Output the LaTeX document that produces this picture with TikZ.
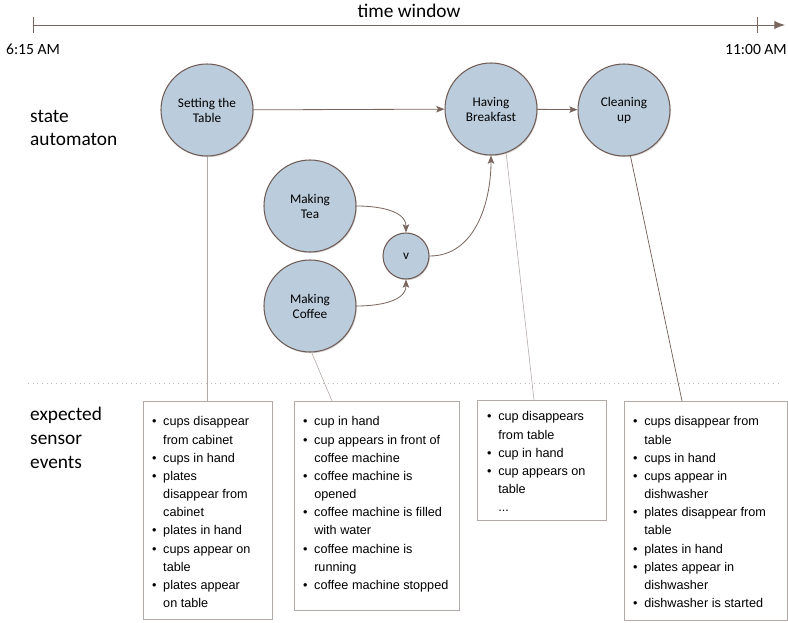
\documentclass[tikz,border=0pt]{standalone}
\usepackage{fontspec}
\setmainfont{Carlito}
\newfontfamily\evfont{Liberation Sans}
\usetikzlibrary{arrows.meta,shadows}
\definecolor{statefill}{RGB}{187,204,221}
\definecolor{stateline}{RGB}{112,92,84}
\definecolor{flowcol}{RGB}{122,102,94}
\definecolor{boxline}{RGB}{178,170,166}
\newcommand{\evlist}[1]{\begin{tabular}{@{}p{9.4pt}@{}l@{}}#1\end{tabular}}
\tikzset{
  state/.style={circle, draw=stateline, line width=0.9pt, fill=statefill, minimum size=2.76cm, inner sep=0pt, align=center,
    font=\fontsize{11.3}{12.8}\selectfont, drop shadow={shadow xshift=0.7pt, shadow yshift=-1pt, opacity=0.35}},
  junction/.style={state, minimum size=1.38cm},
  flow/.style={draw=flowcol, line width=0.7pt, -{Stealth[length=7pt, width=5.5pt, inset=1.5pt]}},
  timeline/.style={draw=flowcol, line width=0.8pt},
  evbox/.style={draw=boxline, line width=0.6pt, inner sep=0pt, outer sep=0pt, anchor=north west},
  evtext/.style={inner sep=0pt, anchor=north west, font=\evfont\fontsize{10.8}{15.5}\selectfont},
  tie/.style={draw=boxline, line width=0.5pt},
  rowlbl/.style={font=\fontsize{16.5}{20.2}\selectfont, align=left, inner sep=0pt, anchor=west},
  timelbl/.style={font=\fontsize{13.3}{16}\selectfont, inner sep=0pt},
}
\begin{document}
\begin{tikzpicture}[x=0.03cm, y=-0.03cm]
\useasboundingbox (0,0) rectangle (788,623);

\coordinate (start) at (33,25);
\coordinate (stop) at (785,25);
\draw[timeline, {Bar[width=16*0.03cm]}-{Latex[length=9pt, width=7pt]}] (start) -- (stop);
\draw[timeline] (757,17) -- (757,33);
\node[font=\fontsize{16.5}{20}\selectfont, inner sep=0pt, anchor=base] (window) at (409,18) {time window};
\node[timelbl, anchor=base] (from) at (33,55) {6:15 AM};
\node[timelbl, anchor=base east] (until) at (787,55) {11:00 AM};

\node[rowlbl] (automaton) at (30,128) {state\\automaton};
\node[rowlbl] (sensors) at (30,438) {expected\\sensor\\events};
\draw[boxline!80, line width=0.6pt, dash pattern=on 0.8pt off 3.2pt] (28,383) -- (780,383);

\node[evbox, minimum width=3.87cm, minimum height=6.54cm] (b1) at (143,401) {};
\node[evbox, minimum width=4.95cm, minimum height=6.27cm] (b2) at (294,401) {};
\node[evbox, minimum width=3.87cm, minimum height=3.6cm] (b3) at (477,400) {};
\node[evbox, minimum width=4.89cm, minimum height=6.57cm] (b4) at (624,401) {};

\node[evtext] (e1) at ([shift={(9,12)}]b1.north west) {\evlist{
  \textbullet & cups disappear\\ & from cabinet\\
  \textbullet & cups in hand\\
  \textbullet & plates\\ & disappear from\\ & cabinet\\
  \textbullet & plates in hand\\
  \textbullet & cups appear on\\ & table\\
  \textbullet & plates appear\\ & on table}};
\node[evtext] (e2) at ([shift={(9,12)}]b2.north west) {\evlist{
  \textbullet & cup in hand\\
  \textbullet & cup appears in front of\\ & coffee machine\\
  \textbullet & coffee machine is\\ & opened\\
  \textbullet & coffee machine is filled\\ & with water\\
  \textbullet & coffee machine is\\ & running\\
  \textbullet & coffee machine stopped}};
\node[evtext] (e3) at ([shift={(10,8)}]b3.north west) {\evlist{
  \textbullet & cup disappears\\ & from table\\
  \textbullet & cup in hand\\
  \textbullet & cup appears on\\ & table\\
  & ...}};
\node[evtext] (e4) at ([shift={(9,12)}]b4.north west) {\evlist{
  \textbullet & cups disappear from\\ & table\\
  \textbullet & cups in hand\\
  \textbullet & cups appear in\\ & dishwasher\\
  \textbullet & plates disappear from\\ & table\\
  \textbullet & plates in hand\\
  \textbullet & plates appear in\\ & dishwasher\\
  \textbullet & dishwasher is started}};

\node[state] (setting) at (207,110) {Setting the\\Table};
\node[state] (having) at (491,109) {Having\\Breakfast};
\node[state] (cleaning) at (624,110) {Cleaning\\up};
\node[state] (tea) at (310,206) {Making\\Tea};
\node[state] (coffee) at (310,306) {Making\\Coffee};
\node[junction] (v) at (406,256) {v};

\draw[flow] (setting) -- (having);
\draw[flow] (having) -- (cleaning);
\draw[flow] (tea.east) to[out=0, in=90] (v.north);
\draw[flow] (coffee.east) to[out=0, in=-90] (v.south);
\draw[flow] (v.east) to[out=0, in=-90] (having.south);

\draw[tie] (setting.south) -- (setting.south |- b1.north);
\draw[tie] (coffee.-88) -- ([shift={(38,0)}]b2.north west);
\draw[tie] (having.-71) -- ([shift={(57,0)}]b3.north west);
\draw[stateline, line width=0.6pt] (cleaning.-82) -- ([shift={(58,0)}]b4.north west);

\end{tikzpicture}
\end{document}
